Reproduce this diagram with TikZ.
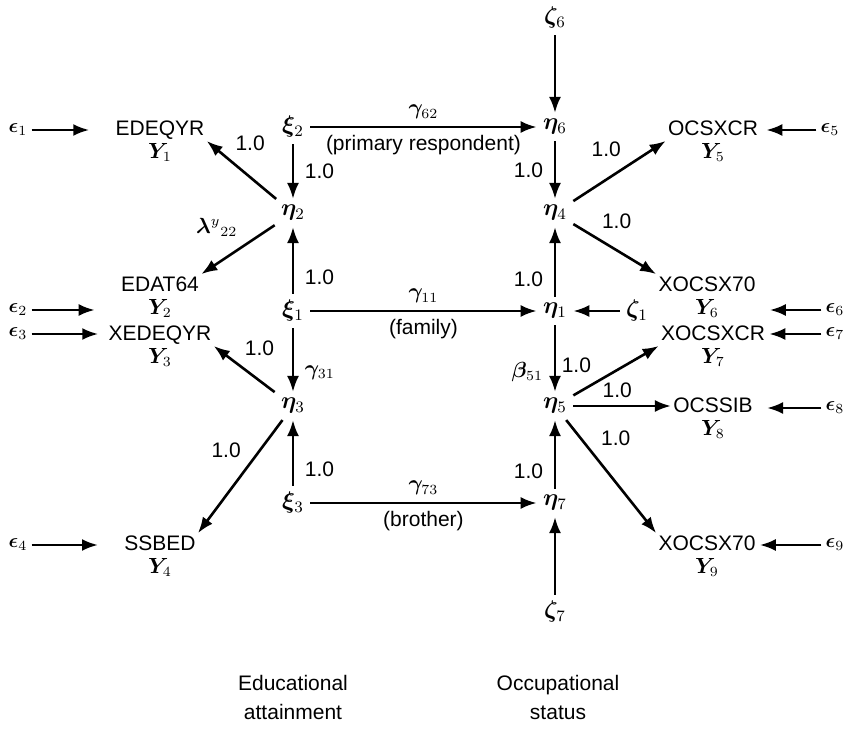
\documentclass[tikz,border=0pt]{standalone}
\usepackage{fontspec}
\setmainfont{Liberation Sans}
\usepackage{amsmath,bm}
\usetikzlibrary{arrows.meta}
\begin{document}
\begin{tikzpicture}[x=0.5pt,y=-0.5pt,
  every node/.style={font=\fontsize{10.5}{11.5}\selectfont},
  var/.style={inner sep=3pt, font=\fontsize{12}{13}\selectfont},
  ind/.style={align=center, inner sep=1pt},
  arr/.style={line width=1.3pt, -{Latex[length=8pt,width=6pt]}},
  err/.style={inner sep=2pt, font=\fontsize{10}{11}\selectfont},
  title/.style={align=center, font=\fontsize{10.5}{14.5}\selectfont}
]
\useasboundingbox (0,0) rectangle (847,732);

% latent variables
\node[var] (xi2)  at (293,127) {$\bm{\xi}_2$};
\node[var] (eta2) at (293,213) {$\bm{\eta}_2$};
\node[var] (xi1)  at (293,311) {$\bm{\xi}_1$};
\node[var] (eta3) at (293,406) {$\bm{\eta}_3$};
\node[var] (xi3)  at (293,503) {$\bm{\xi}_3$};
\node[var] (eta6) at (555,127) {$\bm{\eta}_6$};
\node[var] (eta4) at (555,213) {$\bm{\eta}_4$};
\node[var] (eta1) at (555,311) {$\bm{\eta}_1$};
\node[var] (eta5) at (555,406) {$\bm{\eta}_5$};
\node[var] (eta7) at (555,503) {$\bm{\eta}_7$};
\node[var] (zeta6) at (555,18) {$\bm{\zeta}_6$};
\node[var] (zeta7) at (555,612) {$\bm{\zeta}_7$};
\node[var] (zeta1) at (637,311) {$\bm{\zeta}_1$};

% indicators
\node[ind] (y1) at (160,141) {EDEQYR\\$\bm{Y}_1$};
\node[ind] (y2) at (160,297) {EDAT64\\$\bm{Y}_2$};
\node[ind] (y3) at (160,346) {XEDEQYR\\$\bm{Y}_3$};
\node[ind] (y4) at (160,556) {SSBED\\$\bm{Y}_4$};
\node[ind] (y5) at (713,141) {OCSXCR\\$\bm{Y}_5$};
\node[ind] (y6) at (707,297) {XOCSX70\\$\bm{Y}_6$};
\node[ind] (y7) at (713,346) {XOCSXCR\\$\bm{Y}_7$};
\node[ind] (y8) at (713,418) {OCSSIB\\$\bm{Y}_8$};
\node[ind] (y9) at (707,556) {XOCSX70\\$\bm{Y}_9$};

% measurement errors
\node[err] (e1) at (18,130) {$\bm{\epsilon}_1$};
\node[err] (e2) at (18,310) {$\bm{\epsilon}_2$};
\node[err] (e3) at (18,334) {$\bm{\epsilon}_3$};
\node[err] (e4) at (18,545) {$\bm{\epsilon}_4$};
\node[err] (e5) at (830,130) {$\bm{\epsilon}_5$};
\node[err] (e6) at (835,310) {$\bm{\epsilon}_6$};
\node[err] (e7) at (835,334) {$\bm{\epsilon}_7$};
\node[err] (e8) at (835,408) {$\bm{\epsilon}_8$};
\node[err] (e9) at (835,545) {$\bm{\epsilon}_9$};

% structural paths
\draw[arr] (xi2) -- (eta6)
  node[midway,above=0pt] {$\bm{\gamma}_{62}$}
  node[midway,below=0pt] {(primary respondent)};
\draw[arr] (xi1) -- (eta1)
  node[midway,above=0pt] {$\bm{\gamma}_{11}$}
  node[midway,below=0pt] {(family)};
\draw[arr] (xi3) -- (eta7)
  node[midway,above=0pt] {$\bm{\gamma}_{73}$}
  node[midway,below=0pt] {(brother)};

\draw[arr] (xi2) -- (eta2) node[midway,right=2pt] {1.0};
\draw[arr] (xi1) -- (eta2) node[pos=0.25,right=2pt] {1.0};
\draw[arr] (xi1) -- (eta3) node[pos=0.7,right=2pt] {$\bm{\gamma}_{31}$};
\draw[arr] (xi3) -- (eta3) node[pos=0.25,right=2pt] {1.0};
\draw[arr] (eta6) -- (eta4) node[midway,left=2pt] {1.0};
\draw[arr] (eta1) -- (eta4) node[pos=0.25,left=2pt] {1.0};
\draw[arr] (eta1) -- (eta5) node[pos=0.7,left=2pt] {$\bm{\beta}_{51}$};
\draw[arr] (eta7) -- (eta5) node[pos=0.25,left=2pt] {1.0};
\draw[arr] (zeta6) -- (eta6);
\draw[arr] (zeta7) -- (eta7);
\draw[arr] (zeta1) -- (eta1);

% loadings, education
\draw[arr] (eta2) -- (y1.east) node[pos=0.7,above right=0pt] {1.0};
\draw[arr] (eta2) -- (y2.north east) node[pos=0.4,above left=0pt] {$\bm{\lambda}^{y}{}_{22}$};
\draw[arr] (eta3) -- (y3.east) node[pos=0.62,above right=0pt] {1.0};
\draw[arr] (eta3) -- (y4.north east) node[pos=0.4,above left=0pt] {1.0};

% loadings, occupation
\draw[arr] (eta4) -- (y5.west) node[pos=0.6,above left=0pt] {1.0};
\draw[arr] (eta4) -- (y6.north west) node[pos=0.25,above right=0pt] {1.0};
\draw[arr] (eta5) -- (y7.west) node[pos=0.3,above left=0pt] {1.0};
\draw[arr] (eta5) -- (y8.west |- eta5) node[pos=0.45,above=0pt] {1.0};
\draw[arr] (eta5) -- (y9.north west) node[pos=0.3,above right=0pt] {1.0};

% error arrows
\draw[arr, shorten >=12pt] (e1) -- (y1.west |- e1);
\draw[arr, shorten >=12pt] (e2) -- (y2.west |- e2);
\draw[arr, shorten >=4pt] (e3) -- (y3.west |- e3);
\draw[arr, shorten >=12pt] (e4) -- (y4.west |- e4);
\draw[arr, shorten >=3pt] (e5) -- (y5.east |- e5);
\draw[arr, shorten >=6pt] (e6) -- (y6.east |- e6);
\draw[arr, shorten >=1pt] (e7) -- (y7.east |- e7);
\draw[arr, shorten >=6pt] (e8) -- (y8.east |- e8);
\draw[arr, shorten >=1pt] (e9) -- (y9.east |- e9);

% block titles
\node[title] (edu) at (293,697) {Educational\\attainment};
\node[title] (occ) at (558,697) {Occupational\\status};
\end{tikzpicture}
\end{document}
